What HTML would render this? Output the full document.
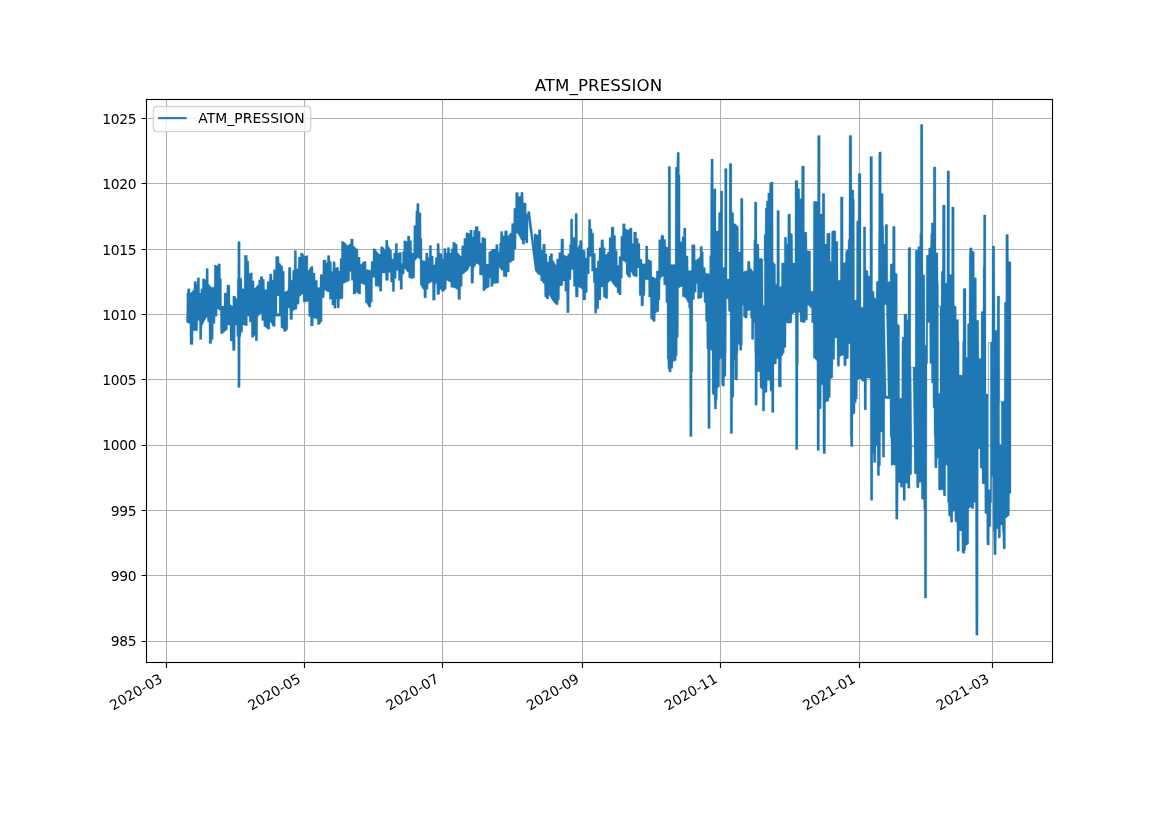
<!DOCTYPE html>
<html lang="fr"><head><meta charset="utf-8"><title>ATM_PRESSION</title>
<style>html,body{margin:0;padding:0;background:#fff;}svg{display:block}</style></head>
<body>
<svg width="1169" height="827" viewBox="0 0 1169 827">
<rect x="0" y="0" width="1169" height="827" fill="#ffffff"/>
<path d="M166.50 99.50V662.50M304.50 99.50V662.50M442.50 99.50V662.50M582.50 99.50V662.50M720.50 99.50V662.50M859.50 99.50V662.50M992.50 99.50V662.50M146.50 641.50H1052.50M146.50 575.50H1052.50M146.50 510.50H1052.50M146.50 445.50H1052.50M146.50 379.50H1052.50M146.50 314.50H1052.50M146.50 249.50H1052.50M146.50 183.50H1052.50M146.50 118.50H1052.50" stroke="#b0b0b0" stroke-width="1.111" fill="none"/>
<path d="M186.4,316.3 186.7,316.3 186.8,293.4 186.9,293.1 187.4,293.1 187.5,292.9 187.6,288.7 190,288.7 190.1,293 190.8,293.1 193,290.2 193.8,290.2 194,281.4 196.4,281.4 196.6,284.3 197.1,284.3 197.2,278 197.4,277.8 199.4,277.8 199.6,278 199.7,293.1 200.8,293.1 200.9,288.7 202.3,288.7 202.4,279 202.8,279 202.9,278.5 203.9,278.5 204.4,279 204.8,279 204.8,279.5 205,279.5 205.3,280 205.8,280 206,268.4 208.3,268.4 208.4,284.3 209,284.3 211.2,287.2 214.2,287.2 214.3,265.5 214.6,265.5 214.6,265 215.8,265 216.4,265.5 216.7,265.5 216.7,265.8 217.2,266.2 217.9,264.9 218,264 218.3,264 218.5,263.7 220.1,263.7 220.1,264 220.4,264 220.5,278.5 221.4,278.5 221.6,306.1 224,306.1 224.1,293.3 224.2,293.1 226.7,293.1 226.9,285.1 229.9,285.1 230.1,304.7 230.7,304.7 232.2,306.1 232.8,306.1 232.8,296 235.2,296 235.3,296.4 236.5,298.8 237.1,298.9 237.3,278.5 237.7,278.5 237.8,242 238,242 238.1,241.5 239.9,241.5 240.2,242.5 240.3,277.3 240.9,278.5 241.9,278.5 242.1,288.7 244.1,288.7 244.3,255.3 247.3,255.3 247.5,261.1 248.8,261.1 249,273.5 249.6,273.5 250,273.3 250,273 250.5,273 251.1,272.7 251.9,272.7 252,273 252.4,273 252.5,280.7 254.1,280.8 254.3,288 255.4,288 257.6,285.1 258.4,285.1 258.5,280 260,280 260.2,276.4 262.7,276.4 262.9,279.3 264.4,279.3 264.6,289.4 266.9,289.4 267.1,281.4 269.3,281.4 269.5,273.9 271.9,273.9 272.1,280 273.3,280 273.4,269.8 275.5,269.8 275.6,256.5 279,256.5 279.2,263.3 280.1,263.3 282,266.2 282.8,266.2 282.9,271.3 284.3,271.3 284.5,291.9 285,291.9 287.2,290.5 288.1,290.5 288.3,267.5 290.9,267.5 291.1,280.3 292.4,280.3 292.6,270.2 294,270.2 294.1,270 294.2,250.6 296.4,250.6 296.5,251 296.6,268.7 298.1,268.7 298.3,257.1 300.4,257.1 300.5,253 302.7,253.1 304.6,256.4 306.8,255.6 307.7,255.6 307.7,256 307.9,256 307.9,270.2 308.7,270.2 310.8,266.5 313,266.5 313.2,273.1 315.1,273.1 315.2,280.3 317.4,280.3 317.5,287.6 319.9,287.6 320.1,274.5 322.7,274.5 322.9,260 326.1,260 326.2,262.9 327.2,262.9 327.4,255.6 329.9,255.6 330.1,261.4 331.4,261.4 331.6,271.6 332.7,271.6 332.9,261.7 335.2,261.7 335.4,268 335.8,268 336.2,267.8 336.2,267.5 336.8,267.5 337.3,267.2 338.1,267.2 338.1,267.5 338.6,267.5 338.7,270.9 339.9,270.9 340,258.5 341.4,258.5 341.4,241.5 343.8,241.5 343.9,241.9 344.2,242 345.3,242.9 347.4,245.5 349.6,244 350.4,244 350.6,238.9 353.3,238.9 353.4,246.2 354,246.2 356.9,249.1 357.9,249.1 358,257.1 360.1,257.2 360.2,264.3 361.2,264.3 363.7,261.5 366.1,261.5 366.2,269.4 367,269.4 369.9,270.2 370.9,270.2 371.1,261.4 372.9,261.4 373.1,248.7 375.2,248.7 377.2,252 379.4,254.2 380.4,254.2 380.6,246.6 382.9,246.7 384.9,249.8 385.4,249.8 385.6,240.3 388,240.3 388.1,246.5 388.7,246.6 390.8,250.1 391.6,250.2 391.8,258.9 393.4,258.9 393.6,253.1 395,253.1 395.2,243.6 397.5,243.6 397.6,253.1 398.1,253 398.9,252.7 399,252.5 400,252.3 401.4,252.5 401.4,263.2 402.4,263.2 402.5,251.6 403.7,251.6 403.7,241 404.1,241 404.2,240.7 405,240.7 406.1,241 406.2,241.2 406.8,241.4 407.3,241.4 407.4,235.9 409.9,235.9 410.1,240.7 411.6,240.7 411.8,253.1 413.6,253.1 413.8,225.5 415.6,225.5 415.8,211 416.6,211 416.7,203.5 417,203.4 419.1,203.5 419.2,212.4 420.7,213.1 421.1,213.1 421.2,238.5 422,238.5 422.1,260.3 425.5,261 425.6,253.1 427.9,253.1 428.1,257.4 429.1,257.4 429.3,245.5 431.6,245.5 431.7,256 433.2,256.1 433.4,264.7 435.2,264.7 435.3,257.4 436.8,257.4 437,243.6 439.3,243.6 439.5,253.1 439.9,253.1 441.3,253.8 442.1,253.8 442.3,258.9 443.5,258.9 443.7,248.4 446,248.4 446.2,253.1 447.2,253.1 447.3,247.5 449.6,247.5 449.8,252.9 449.8,253.1 451.1,253.1 451.3,248.7 452.6,248.7 452.6,242.5 452.8,242.2 454.6,242.2 456.4,244.3 457.3,244.3 457.5,253.1 458.3,253.1 460.5,255.9 461.5,256 461.7,245.8 463.7,245.8 463.8,238.5 465.9,238.5 465.9,233 466.2,233 466.2,232.7 467.5,232.7 469.2,233.4 469.7,233.5 469.9,230.1 472.2,230.1 472.4,237.1 473.5,237.1 473.6,230.6 475,230.6 475.1,226.6 478.2,226.6 478.3,231.3 480.2,231.3 480.3,242.9 481.7,242.9 481.7,237.5 484.1,237.5 484.2,238 484.4,238 484.9,238.5 486,238.5 486.1,264.1 488.6,264.1 488.7,251.8 490.1,251.7 492.3,248.9 495.5,248.9 495.7,244.5 498.1,244.5 498.3,251.8 499.3,251.8 499.5,243.1 500.3,243.1 500.5,231.4 502.8,231.4 502.9,235.8 504.4,235.8 504.6,230.7 507.4,230.8 507.6,235.8 508.3,235.8 510.4,232.9 511.4,232.9 511.6,223.5 513.6,223.5 513.8,208.2 515.5,208.2 515.6,192.5 518.3,192.5 518.4,196.5 519.1,196.6 520.7,195.9 520.8,192.5 521,192.5 521.1,192.3 523,192.3 523.2,192.5 523.3,202.4 525.4,203.1 526.2,203.1 526.3,214 527.1,214 527.6,213.3 527.6,211.5 530,211.5 530.1,213.8 534,244.4 534,234 534.8,234 535.1,233.6 535.7,234 536.4,234 536.5,234.5 537.3,235.1 538.2,235.1 538.3,229.7 541,229.7 541.2,250.3 542.5,250.3 542.7,244.2 545.4,244.2 545.5,253.9 547,253.9 547.2,261.9 548.8,261.9 549,256.1 550.1,256.1 550.3,253.5 552.6,253.5 552.8,260.5 553.3,260.5 555.4,264.8 556.4,264.8 556.6,259 558.6,259 558.6,258.9 558.8,252.5 560.7,252.5 560.9,239 563.7,239 563.8,255 564.4,255 566.6,256.4 568.7,253.6 569.4,253.5 569.5,244.8 570.4,244.8 570.4,219 572.8,219 572.9,237.6 574.9,237.6 575,214 575.1,214 575.2,213.6 577.2,213.6 577.4,215 577.5,247.7 577.7,247.7 579.2,244.8 579.5,244.8 579.6,240.5 582,240.5 582.1,249.2 582.5,249.2 584.4,250.6 585.2,250.6 585.4,257.9 586.8,257.9 587,247.7 588.3,247.7 588.4,219.4 590.7,219.4 590.9,228.9 592.1,228.9 592.3,233.2 593.8,233.2 593.9,253.5 595.4,253.5 595.5,268.1 597.1,268.1 597.3,260.8 598.9,260.8 599.1,247.7 600.8,247.7 600.9,239.8 603.6,239.8 603.8,247.7 605.2,247.7 605.3,255 606.2,255 607.9,252.1 608.9,252.1 609.1,237.6 610.9,237.6 611.1,227.1 614,227.1 614.1,235.4 615.7,235.4 615.8,250.6 617.3,250.6 617.4,265.2 618.9,265.2 619,256.4 620.7,256.4 620.8,236.2 622.4,236.1 622.6,223.8 625.2,223.8 625.4,228.9 626.1,228.9 628.2,230.3 629.7,228.5 630.2,228.1 632,228.1 632.1,228.5 632.2,243.4 633.5,243.4 633.7,232.1 636.5,232.1 636.6,238.3 638.1,238.3 638.1,238.4 638.3,243.4 640,243.4 640.1,258.9 640.2,259.3 641.9,259.3 642.1,263.7 645.4,263.7 645.6,246 647.9,246 648,259.3 648.6,259.4 650.7,260.8 651.7,260.8 651.9,276.8 652.9,276.8 655.1,278.2 656.1,278.2 656.3,271 658.5,271 658.7,239.8 660.8,239.6 661,235.3 663.8,235.3 664,239.6 665.7,239.6 665.8,246.9 666.8,246.9 668.1,247.6 668.1,166.5 669.1,166.5 669.3,166.2 669.6,166.5 670.5,166.5 670.6,168 670.7,264.5 675.1,264.5 675.3,167.6 676.4,166.9 676.8,166.9 677,152.5 677.8,152.5 678.2,152.1 678.6,152.5 679.4,152.5 679.4,174.9 680.1,174.9 680.2,241.8 681.8,241.8 682,236.7 683.5,236.7 683.6,228 686,228 686.1,255.6 688.1,256.3 688.3,270.4 691.5,270.4 691.6,244.7 695.1,244.7 695.3,260.2 695.9,260.2 698.1,258.7 700,256.4 700,246.5 702.4,246.5 702.5,252 703.3,252 703.5,267.5 705.3,267.5 705.5,273.3 706.8,273.3 709.6,274 709.7,255.7 710.5,255.6 710.6,184 710.7,184 710.8,183.6 710.9,159 713.3,159 713.4,206.9 713.6,189 713.7,188.7 715.8,188.7 716,189 716,230.9 718.4,230.9 718.5,212.7 719.2,212.7 720.3,211.4 720.4,191 722.8,191 722.8,267.5 724.6,267.5 724.6,169.5 724.7,168.5 725.9,168.4 727.1,168.5 727.1,279.1 729.1,279.1 729.2,164 729.4,164 729.5,163.5 730.4,163.5 730.8,163.3 731,163.5 731.9,163.5 731.9,212 733,212.7 733.6,212.7 733.7,212.9 733.8,223.6 734.5,223.6 735.9,224.3 737.8,226.5 738.4,226.5 738.6,252 740.4,252 740.5,199 740.6,198.5 741.1,198.5 741.3,198.2 742.4,198.2 742.6,198.5 743,198.5 743.3,271.8 746.8,270.4 747.3,270.4 747.5,261.3 750,261.3 750.1,268.2 750.9,268.2 753.3,271.8 753.6,271.8 753.8,240.3 754.3,240.3 754.4,202.5 754.5,202 755.4,202 755.8,201.8 756.1,202 756.9,202 757,244 759,244.4 759.1,258.5 759.7,258.5 760.7,258 761.8,258.5 763.5,260.2 764,260.2 764.1,234.5 765.1,234.5 765.2,208.3 766.2,208.3 766.4,201.1 767.7,201.1 767.8,193.1 769.4,193.1 769.6,182.9 770.4,182.9 770.7,182 773.1,182 773.2,261.6 775.2,264.5 775.5,264.5 775.6,284.2 776.8,284.2 776.9,210.5 777.9,210.5 778.1,210.3 778.3,210.5 779.3,210.5 779.4,211.5 779.5,286.4 781.3,286.4 781.4,285.8 781.5,263.1 784.3,263.1 784.3,237.5 784.5,237.1 786.7,237.5 786.8,244 787.7,244 787.8,214.9 788,214.9 788.1,214 790.5,214 790.6,233.1 790.9,233.1 792.2,234.5 792.6,234.5 792.8,263.1 794.9,263.1 795,181 795.3,181 795.5,180.5 797.9,180.5 797.9,188.1 799.2,188.7 799.7,188.7 799.8,198.9 800.3,198.9 801.5,198.2 801.6,166.5 801.9,166.5 802,166 804.4,166 804.4,231.7 806.4,232.3 806.9,232.3 807.1,250.5 810.6,251.2 810.8,291.2 813.2,291.2 813.4,202.2 813.6,201.5 814.3,201.5 814.9,201.1 815.2,201.5 816.6,201.3 816.7,201.5 817.4,201.5 817.5,203 817.6,136.5 817.8,135.5 818.6,135.5 819,135 819.4,135.5 820.2,135.5 820.2,214 822.2,214 822.2,194 822.4,193.5 823.1,193.5 823.8,193.2 824.1,193.5 824.8,193.5 824.9,243.9 826.5,243.9 826.7,233.7 827.6,233.5 827.7,233 830.1,233 830.1,261.4 831.3,261.4 831.5,231.5 833.3,230.5 835.8,231.1 835.9,241 837.9,241.7 838.1,280.3 840.3,280.3 840.4,197.5 840.7,197.5 840.7,197 843.1,197 843.2,262.8 845.4,262.8 845.6,251.2 847.5,249.7 848,249.7 848.2,239.5 848.9,239.5 849.1,136.2 849.4,136 849.4,135.5 850.1,135.5 850.7,135 851.1,135.5 851.8,135.5 851.9,190 853.8,190 853.9,199 854,199.4 854.4,199.4 854.5,299.9 856.4,299.9 856.6,221.2 858.1,220.5 858.2,174 858.5,174 858.6,173.5 859.5,173.5 859.9,173.3 860.1,173.5 861,173.5 861,307.2 863.2,307.2 863.3,227 864.2,227 864.6,226.7 864.8,227 865.7,227 865.9,270.1 867.5,270.8 867.9,270.8 868.1,275.9 869.9,275.9 869.9,157.5 870.1,156.5 871.1,156.5 871.4,156.3 871.6,156.5 872.5,156.5 872.6,291.2 874.1,291.6 874.3,297.7 874.7,297.7 875.7,298.4 876.1,298.4 876.3,281.7 878.3,281 878.4,242.7 878.5,239.5 878.6,239.5 878.7,153 878.9,152 879.8,152 880.1,151.6 880.4,152 881.3,152 881.3,193.6 883.2,193.6 883.3,226.3 883.7,226.3 883.8,227.5 883.9,243.9 885.1,243.9 885.1,225 885.3,225 885.3,224.5 886.1,224.5 886.8,224.2 887,224.5 887.7,224.5 887.8,281.7 890.1,281.7 890.2,264.3 892.5,263.5 892.6,226.5 894.6,226.2 894.6,226.5 895,226.5 895.2,228 895.3,273.1 897.3,273.7 897.4,323.9 897.7,323.9 899,325.3 899.4,325.3 899.5,326.5 899.6,398.3 901.7,398.3 901.9,341.3 902.1,341.3 902.2,340.9 902.3,337 903.9,337 903.9,314.5 904.6,314.4 904.6,314 907,314 907.1,319.9 908,319.5 908.1,248.3 908.4,247.5 909.2,247.5 909.6,247.1 909.9,247.5 910.8,247.5 910.8,367 915.2,367 915.3,250.4 917.8,250 917.9,246.8 919.7,246.5 919.8,233.7 920.2,233.7 920.3,228 920.4,125 920.5,124.5 921.3,124.5 921.7,124.1 922.1,124.5 922.9,124.5 923,274.4 924.8,275.2 925,345.2 926.1,345.2 926.3,255.5 928.5,254.8 928.6,248.3 929,248.3 930.1,247.6 930.5,247.5 930.7,233.7 931.2,233.7 931.3,223.1 933.3,222.7 933.3,167.5 933.5,167 934.3,167 934.8,166.7 935.1,167 935.9,167 936,252.6 937.9,252.9 938.1,283.2 938.3,283.2 938.4,283.4 938.5,306.4 941,306.4 941.2,271.5 942.3,271.5 942.5,205.5 942.8,205.5 942.8,205 945.2,205 945.3,283.2 946.9,282.9 947,171.5 947.1,171 947.9,171 948.5,170.5 948.8,171 949.5,171 949.6,172 949.6,274.4 951.6,274.4 951.7,207.5 951.8,207 953.3,206.9 953.4,207 954.2,207 954.3,305.7 956.2,306.4 956.3,319.5 958.6,319.5 958.7,341.3 959.1,341.3 959.2,375 962.4,375 962.6,341.3 963.1,341.3 963.1,289 963.5,289 963.6,288.5 966,288.5 966.1,357.5 967.4,357.5 967.5,323.9 969,323.2 969.2,257.4 969.2,255.5 969.4,255.5 969.5,248.5 969.7,248.5 969.8,248 970.4,248 971.2,247.5 971.6,247.5 971.6,248 972.2,248 972.2,251.2 974.3,251.5 974.4,277.4 976.4,278.1 976.5,320.3 978.7,320.3 978.9,358.5 981,358.5 981.1,312.8 981.3,311.6 983,311.3 983.1,268 983.2,266.7 983.3,266.7 983.4,263 983.5,215.5 983.5,215 984.4,215 984.8,214.5 985.1,215 985.9,215 986,394 988.2,394 988.3,342.5 990.3,342.5 991.9,341.8 992.2,246.5 992.3,246 993.1,246 993.6,245.7 994,246 994.7,246 995.1,330.2 997.1,330.2 997.2,297.5 997.3,296 999.7,296 999.8,401.2 1004.2,401.2 1004.4,302.2 1005.8,301.9 1005.8,235 1006,234.5 1006.7,234.5 1007.4,234.1 1007.7,234.5 1008.4,234.5 1008.5,261.6 1009.9,261.6 1011,262.3 1011,493 1009.6,493.8 1009.6,494.3 1009.4,515.5 1009.1,515.5 1005.5,518.4 1005.4,548.5 1004.9,548.5 1004.9,549 1003.5,549 1003.5,548.5 1003,548.5 1002.7,531.4 1002.4,531.4 1002.3,531.1 1002.2,524.9 1000.6,524.9 1000.5,537.5 1000.1,537.5 1000.1,538 998.6,538 998.6,537.5 998.1,537.5 998.1,529.2 996.6,528.6 996.4,540.3 996.3,541.4 996.2,554.5 995.8,554.5 995.7,554.8 994.3,554.8 994.3,554.5 993.8,554.5 993.5,531.4 993.2,531.4 993.1,529.9 993,476.4 991.8,476.4 991.7,502.5 991,502.5 990.8,526.4 990.3,526.4 989.4,526.9 989.4,545 987,545 986.9,542.5 986.7,542.5 986.7,514 985.3,513.3 984.8,513.3 984.7,484.3 982.1,483.6 981.9,468.4 980.1,467.7 980,449.6 979.9,448.7 978.7,448.7 978.4,449.6 978.3,449.6 978.1,635 977.7,635 977.6,635.3 976.1,635.3 976.1,635 975.7,635 975.4,502.5 973.8,502.5 973.8,508.5 973.3,508.5 973.3,508.8 972.1,508.8 971.8,508.5 971.4,508.5 971.1,507.5 970.7,506.9 969.3,508.3 968.8,508.3 968.7,544 968.2,544 966.4,545.4 965.7,545.4 965.6,550.2 965.5,550.5 964.9,550.5 964.8,553 964.4,553 964.4,553.4 963,553.4 962.8,553 962.4,553 962.3,552 961.9,552 961.8,530.9 959.4,530.9 959.4,551 959.1,551 959,551.2 957.4,551.2 957.3,551 957,551 956.9,522.9 955.5,521.5 955,521.4 954.9,521.3 954.8,511.3 952.8,511.3 952.8,522 952.4,522 952.4,522.2 950.8,522.2 950.8,522 950.4,522 950.3,517 948.9,515.6 948.5,515.6 948.3,502.5 947.5,502.5 947.4,465.4 947,465.4 946,464.7 945.7,464.7 945.7,495.5 945.5,495.5 945.4,496 943.6,496 943.6,495.6 943.3,495.5 943.2,490.2 941.6,489.4 941.4,489.5 941.4,490 940.2,490.2 939,490 938.9,489.5 938.4,489.4 938.3,458.2 937.2,458.2 937.1,467.5 936.6,467.5 936.5,467.9 935.4,467.9 935.3,467.5 934.7,467.5 934.4,436.8 934.1,436.8 933.9,407.7 933,407.7 932.8,383 931.5,383 931.3,363.4 929.8,363.4 929.6,322.4 927.8,322.4 927.7,363.4 927,363.4 926.7,598 924.8,598.2 924.8,598 924.3,598 924.2,509.8 923.8,509.8 923.7,509.1 923.6,499.6 923.2,499.6 921.7,498.9 921.4,498.9 921.2,482.2 919.1,482.2 919,487.5 918.7,487.5 918.6,487.7 916.9,487.7 916.9,487.5 916.6,487.5 916.5,474.2 914.2,473.4 914.1,446.5 911.9,445.8 911.7,474.2 910,474.9 910,488 909.7,488 909.6,488.3 907.9,488.3 907.9,488 907.6,488 907.5,482.9 905.5,483.5 905.4,500 905,500 905,500.4 903.5,500.4 903.5,500 903,500 903,483.6 902.8,483.6 902.7,487 902.5,487 902.5,487.3 900.6,487.3 900.5,487 900.3,487 900.3,486.5 900.2,482.9 898.7,482.2 898.3,482.2 898,519 897.5,519 897.4,519.3 896.1,519.3 896.1,519 895.6,519 895.4,465.4 893.6,464.7 893.4,465 892.9,465 891.7,465.4 891.6,465.4 891.5,465 891,465 891,441.2 890.8,441.2 890.7,436.8 890.1,436.8 889.9,399 884.8,398.6 884.7,457 882.8,457.2 882.8,457 882.3,457 882.2,432.1 880.6,432.1 880.5,465.5 879.7,466.1 879.6,475.5 877.7,475.6 877.2,475.5 877.1,445.8 876,445.8 875.9,462.5 873.5,462.5 873.4,453.6 872.9,453.1 872.8,500 872.4,500 872.3,500.4 871,500.4 870.9,500 870.4,500 870.2,378.6 868.2,377.9 866.6,378.6 866.5,409.5 866.1,409.5 866.1,409.9 864.6,409.9 864.5,409.5 864.1,409.5 864,381.5 862.4,381.2 860.2,378.6 858,379.4 857.5,379.4 857.4,398.7 857.3,399 856.4,399 856.3,402.6 855.2,402.6 855,413.5 854.4,413.5 853,414.2 852.9,446.5 850.5,446.5 850.4,436.8 850.2,436.5 850.1,343.7 848.6,343.7 848.5,358.3 846.3,359 846.2,365.5 845.9,365.5 845.9,365.8 844.1,365.8 844.1,365.5 843.8,365.5 843.7,355.4 842,355.4 839.7,356.8 839.6,366 839.3,366.3 837.4,366.3 837.4,366 837.2,366 836.9,337.9 834.9,337.9 834.7,359 833,359.7 832.8,377.9 831.1,378.6 830.5,378.6 830.3,397.4 829,397.5 828.8,401.2 828.2,401.2 825.7,401.9 825.5,453.5 825,453.5 824.9,453.8 823.6,453.8 823.6,453.5 823.1,453.5 822.9,448.5 822.8,385.2 821.7,384.5 821.4,384.4 821.2,408.4 819.5,409.2 819.4,450.5 817,450.5 816.9,361.4 816.8,360.4 816.5,360.4 814.4,358.3 813.4,358.3 813.2,322.7 811.6,322.7 811.5,308.2 810.8,308.1 808.6,305.3 807.6,305.3 807.5,319.8 806.4,319.8 805.1,321.6 805.1,322.5 804.4,322.5 804.2,322.7 802.7,322.5 802.6,322.3 801.4,322 800.2,322 800,312.5 798.5,312.5 798.4,364.5 798,364.5 797.9,449.5 795.5,449.5 795.4,364.5 795.2,312.5 794.8,312.6 792.6,314 792,314 791.8,322.7 791.2,322.7 789,323.4 786.8,322.7 786.2,322.7 786,347.4 784.4,347.4 784.2,353.3 783.1,353.3 782.9,355.8 781.5,355.8 781.4,387 779,387 779,386.6 778.5,386.5 778.2,386 778.2,358.7 776.6,358.7 776.4,363.8 775.9,363.8 774,364.5 774,412.5 771.6,412.5 771.5,391.4 770.4,390.7 770,390.7 769.8,380.5 767.3,380.5 767.1,392.2 766.4,392.2 764.8,392.9 764.7,411 762.3,411 762.3,389.3 762.1,389.2 760.6,387.8 760,387.8 759.8,371.8 757.4,371.8 757.3,405 757,405 757,405.3 755.3,405.3 755.3,405 754.9,405 754.9,352.9 754.7,352.9 754.5,322.7 753.9,322.7 753.8,339 753.6,339 753.5,339.4 751.8,339.4 751.7,339 751.4,339 751.4,318.3 750.5,318.3 750.4,310.4 749.7,310.4 747.4,311.1 747.3,318 746.8,318 746.7,318.3 746.1,318.3 745.6,318 744.9,318 744.9,317.5 744.6,317.5 743.9,316.9 743.4,316.9 743.3,305.6 743.2,305.3 742.5,305.3 742.4,344.5 742,344.5 741.9,350 741.8,350.3 739.7,350.3 739.5,350 739.5,344.5 738.2,344.5 738,352.9 737.7,352.9 737.6,380 736.8,380 736.8,380.2 736.4,380.2 736.1,380 735.2,380 734.9,379.1 734.6,379 734.5,360.2 734,360.2 733.9,396.5 732.7,397.9 732.6,433.5 730.2,433.5 730.1,312.5 728.7,311.1 728.4,311.1 728.2,299.4 727.9,299.4 726.5,298 726.3,352.9 726.1,352.9 726.1,355 726,374.4 725.9,376.2 724.6,376.8 724.5,386 723.7,386 723.7,386.4 723.3,386.4 723,386 722.1,386 721.7,384.5 721.5,384.5 721.5,358.7 719.8,358.7 719.6,386.4 717.8,387.8 717.5,387.8 717.3,400.2 716.7,400.2 716.6,408.5 716.5,408.9 714.3,408.9 714.1,395.1 713.4,395.1 712.1,393.6 712,350.3 710.3,350.3 710.2,427.5 710.2,428.5 707.8,428.5 707.7,379.1 707.5,379 707.5,348.9 706.8,348.9 706.6,321.4 705.5,321.3 705.3,302.4 704,302.4 703.8,292.2 702.2,292.2 702,298 701,298 698.8,298.7 697.8,298.7 697.8,298.5 697.4,298.5 697.4,283.4 696.4,283.4 696.2,292.2 694.7,292.2 694.5,299.4 692.9,299.4 692.7,371.8 692.2,371.8 692.1,436.5 689.7,436.5 689.4,308.2 688.7,308.2 688.5,302.4 687.9,302.4 685.7,298 683.1,296.5 682.3,296.5 682.2,286.4 681.4,286.4 679.2,287.8 678.6,287.8 678.4,337.3 677.4,337.3 677.2,355.8 676.4,355.8 676.3,360.5 675.8,360.5 673.8,361.6 673,361.6 672.8,368.2 671.4,368.2 671.2,372.1 668.9,372.1 668.8,368.9 667.9,368.9 667.7,358.8 667.1,358.7 667,302.4 665.8,302.4 665.7,284.9 663.6,284.8 663.5,276.2 662.5,276.2 660.2,279.1 660,300 659,300 658.9,311.6 658,311.6 655.8,313 655.4,313 655.3,321 655.2,321.5 653.4,321.5 651.5,318.9 650.5,318.9 650.3,297.1 648.6,297.1 648.5,279.7 645.2,279.7 645,295.6 643.7,295.6 643.6,305.8 640.9,305.8 640.8,295.9 640.7,295.6 639.2,295.6 639,268.1 637.4,268.1 637.4,276.5 637.2,276.8 636.2,276.8 633.3,276 631.2,271.7 630.7,271.7 630.7,277 630.5,277.5 628.8,277.5 628.3,277 626.8,274.6 626.1,274.6 626,262.2 625.3,262.2 623.1,260.8 622.5,260.8 622.4,278.1 621.2,278.2 621.2,294.5 621,294.9 619.2,294.9 619,294.5 618.8,294.5 618.7,294 618.1,292.7 617.1,292.7 616.9,287.6 615.9,287.6 613,284.1 610.8,280.4 608.2,282.6 607.9,282.6 607.8,298.5 605.4,298.5 605.4,298 605.1,298 605.1,297.7 604.3,297.1 603.3,297.1 603.1,286.9 601.1,286.9 600.9,300 598.9,300 598.8,308.7 596.9,308.7 596.7,313.3 594.5,313.3 594.3,282.6 593.3,282.6 593.1,271 591.5,271 591.3,256.4 589.5,256.4 589.3,273.9 587.5,273.9 587.3,292.5 587.3,292.7 585.8,292.7 585.7,300 582.9,300 582.7,289.1 581.8,289.1 578.9,286.9 578.4,286.9 578.2,297.1 575.4,297.1 575.2,286.2 573.4,286.2 573.2,269.5 571.2,269.5 571,279.7 569.4,279.7 569.2,312.8 566.7,312.8 566.5,291.3 564.8,291.3 564.7,281.1 563,281.1 562.8,285.5 562.2,285.5 559.6,286.2 559.5,299.7 558.4,299.7 558.2,304.7 556.2,304.7 554,302.6 551.8,299.6 549.6,295.3 548.9,295.3 548.8,298.9 546.8,298.9 545.3,296.8 544.6,296.8 544.4,283.7 543.8,283.7 541.6,280.8 540.6,280.8 540.5,275 539.4,275 537.3,273.5 535.1,270.5 530.6,235.3 528.1,217.9 528,243 525.6,243 525.5,240.2 524.8,240.2 524.7,244.2 522.2,244.2 522,240.2 521.3,240.2 519.1,235.8 517,232.9 516.3,232.9 516.1,248.9 514.5,248.9 514.3,260.5 513.3,260.5 510.4,262.6 509.4,262.6 509.3,272.1 507.2,272.1 507,276.7 503.3,276.7 503.1,270.6 501.7,270.6 499.6,267.8 498.9,267.7 498.7,283 493.2,283.7 493,286.6 490.7,286.6 490.6,277.9 489.5,277.9 489.3,287.3 488.6,287.3 485.4,289.3 485.2,290.5 484.6,290.5 484.4,290.8 483.4,290.8 483.4,290.5 482.8,290.5 482.7,275.6 480.1,274.8 479.4,274.8 479.3,264.7 478.6,264.7 476.5,263.2 474.3,267.5 473.8,267.6 473.6,283.2 470.9,283.2 470.8,266.1 469.9,266.1 467.7,270.5 465.6,271.9 463.4,274.1 462.4,274.1 462.2,286.4 460.7,286.4 460.5,299.5 457.9,299.5 457.7,289.3 456.9,289.3 454.7,287.9 451.8,287.2 450.8,287.2 450.6,282.1 449.6,282.1 447.4,280.6 446.4,280.6 446.3,289.3 445.2,289.4 444.3,290.7 444.3,291.5 442.5,291.5 441.9,291.5 441.8,290.8 440.5,289.3 439.9,289.3 439.7,294.4 436.9,294.4 436.7,283.5 435.4,283.5 435.2,300.2 432.5,300.2 432.4,282.1 431.5,282.1 429.3,283.5 428.3,283.5 428.1,289.3 426.6,289.3 426.4,297.8 423.9,297.8 423.7,289.3 423,289.3 420.6,285.1 420.2,285 420,258.9 419.6,258.9 417.7,257.4 415.5,260.3 414.9,260.3 414.7,277.7 414,277.7 413.1,278.2 413.1,278.5 412.6,278.5 411.9,278.9 411.2,278.5 410.7,278.5 410.6,278.2 409.7,277.7 408.7,277.7 408.5,271.9 407.5,271.9 405.4,269.1 404.3,269 404.2,274.1 402.6,274.1 402.5,289.3 400,289.3 399.9,280.6 398.4,280.6 398.2,270.5 396.4,270.5 396.2,278.5 394.7,278.5 394.6,291.5 392.3,291.5 392.1,282.1 390.6,282.1 390.5,281.9 390.4,272.6 388.5,272.6 388.3,280.6 385.6,280.6 385.4,273.1 382.1,273.1 381.9,291.2 379.5,291.2 379.3,286.8 378.6,286.8 376.5,286.1 375.1,286.1 374.9,277.4 372.6,277.4 372.4,302.1 371,302.1 370.9,307 370.7,307.2 368.9,307.2 368.5,307 368.5,306.5 366.3,302.8 365.3,302.8 365.1,284.7 364.1,284.7 361.2,283.2 360.8,283.2 360.8,294 358.4,294 358.3,293.7 356.9,291.9 355.3,294.1 353,294 353,280.3 351.3,280.3 351.1,271.6 349.7,271.6 349.5,281 348.9,281 346,282.5 343.8,283.2 343.2,283.2 343,298.5 342.3,298.5 340.2,299.2 339.5,299.2 339.3,307.9 337,307.9 336.9,299.2 336.2,299.2 336.1,308.2 333.8,308.2 333.6,305 331.9,305 331.7,299.2 329.4,299.2 329.2,291.9 327.8,291.9 325.7,290.5 324.4,290.5 324.3,297.7 322.3,297.7 322.1,321.7 321.3,321.7 319.8,324.6 317.4,324.6 317.3,318.8 316.2,318.8 314.1,318.1 313.4,318 313.2,326 310.5,326 310.4,316.6 308.7,316.6 308.5,301.4 307.5,301.4 305.5,301.9 305.5,302 303.1,302 303,294.1 302.4,294.1 300.3,296.3 299.3,296.3 299.1,304.3 297.1,304.3 296.9,309.3 295.9,309.3 293,310.8 292.7,310.8 292.5,319.5 289.9,319.5 289.7,307.9 288,307.9 287.8,329.7 287.2,329.7 286.4,330.3 286.1,331.5 283.7,331.5 283.6,329.8 282.3,327.9 280.9,327.8 280.7,316.3 275.4,316.3 275.3,326.4 272.9,326.4 270.7,322.1 270,322.1 269.8,329.3 267.8,329.3 264.9,326.5 263.8,326.4 263.7,320.6 261.7,320.6 261.5,313.4 260.5,313.4 258.3,316.3 257.8,316.3 257.6,340.7 255.3,340.7 255.2,335.1 254.7,335.2 253.6,337.3 251.4,337.3 251.2,322.1 249.3,322.1 249.2,316.3 247.4,316.3 247.4,325.5 247,325.5 247,325.7 246,325.7 243.8,325 242.8,325 242.6,332.2 241.1,332.2 241,336.6 240.3,336.6 240.2,384 240.1,387.4 237.9,387.4 237.8,387 237.7,336.6 236.8,336.6 236.6,325 235.3,325 235.1,350.4 232.5,350.4 232.3,341 230.1,341 230.1,340.6 229.9,325 227.6,325 227.4,330.1 226.4,330.1 224.2,332.2 222.9,333.1 222.9,333.5 221,333.7 221,333.5 220.5,333.5 220.4,310.5 219.8,310.4 218.1,309 217.3,309 217.1,316.3 215.2,316.3 215.1,323.5 213.4,323.5 213.2,339.5 211.9,339.5 211.8,343.6 209.1,343.6 208.9,322.1 207.6,322.1 207.4,317 206.8,317 204.6,320.6 202.5,324.9 202,325 201.8,339.5 199.5,339.5 199.4,321.2 199.3,320.6 197.8,320.6 197.6,330.8 193.2,330.8 193,344.6 190,344.6 189.8,323.5 188.6,323.5 186.4,322.1ZM762.8,260.2 764.3,260.2 764.3,305.3 763.1,305.3ZM277.0,296.0 279.1,296.0 279.1,313.4 277.0,313.4ZM884.5,304.7 886.3,304.7 888.0,396.1 886.2,396.1ZM911.1,367.0 913.0,367.0 914.1,446.5 911.9,446.5ZM938.4,305.9 940.0,305.9 940.0,393.2 938.4,393.2ZM988.4,342.5 990.3,342.5 990.3,489.4 988.4,489.4ZM999.6,401.2 1001.3,401.2 1001.3,444.5 999.6,444.5Z" fill="#1f77b4" fill-rule="evenodd" stroke="#1f77b4" stroke-width="0.25" stroke-linejoin="round"/>
<rect x="146.500" y="99.500" width="906.000" height="563.000" fill="none" stroke="#000" stroke-width="1.111"/>
<path d="M166.50 662.50v5.56M304.50 662.50v5.56M442.50 662.50v5.56M582.50 662.50v5.56M720.50 662.50v5.56M859.50 662.50v5.56M992.50 662.50v5.56M146.50 641.50h-4.86M146.50 575.50h-4.86M146.50 510.50h-4.86M146.50 445.50h-4.86M146.50 379.50h-4.86M146.50 314.50h-4.86M146.50 249.50h-4.86M146.50 183.50h-4.86M146.50 118.50h-4.86" stroke="#000" stroke-width="1.111" fill="none"/>
<g font-family="'DejaVu Sans', 'Liberation Sans', sans-serif" font-size="13.889px" fill="#000">
<text x="136.18" y="646.48" text-anchor="end" letter-spacing="-0.33">985</text>
<text x="136.18" y="581.15" text-anchor="end" letter-spacing="-0.33">990</text>
<text x="136.18" y="515.82" text-anchor="end" letter-spacing="-0.33">995</text>
<text x="136.18" y="450.49" text-anchor="end" letter-spacing="-0.33">1000</text>
<text x="136.18" y="385.16" text-anchor="end" letter-spacing="-0.33">1005</text>
<text x="136.18" y="319.83" text-anchor="end" letter-spacing="-0.33">1010</text>
<text x="136.18" y="254.50" text-anchor="end" letter-spacing="-0.33">1015</text>
<text x="136.18" y="189.17" text-anchor="end" letter-spacing="-0.33">1020</text>
<text x="136.18" y="123.84" text-anchor="end" letter-spacing="-0.33">1025</text>
<text transform="translate(166.10,672.22) rotate(-30)" text-anchor="end" x="-6.97" y="6.88">2020-03</text>
<text transform="translate(304.23,672.22) rotate(-30)" text-anchor="end" x="-6.97" y="6.88">2020-05</text>
<text transform="translate(442.37,672.22) rotate(-30)" text-anchor="end" x="-6.97" y="6.88">2020-07</text>
<text transform="translate(582.77,672.22) rotate(-30)" text-anchor="end" x="-6.97" y="6.88">2020-09</text>
<text transform="translate(720.90,672.22) rotate(-30)" text-anchor="end" x="-6.97" y="6.88">2020-11</text>
<text transform="translate(859.04,672.22) rotate(-30)" text-anchor="end" x="-6.97" y="6.88">2021-01</text>
<text transform="translate(992.64,672.22) rotate(-30)" text-anchor="end" x="-6.97" y="6.88">2021-03</text>
</g>
<text x="598.45" y="90.91" letter-spacing="0.06" text-anchor="middle" font-family="'DejaVu Sans', 'Liberation Sans', sans-serif" font-size="16.667px" fill="#000">ATM_PRESSION</text>
<rect x="153.44" y="106.44" width="157.20" height="25.20" rx="2.78" fill="#fff" fill-opacity="0.8" stroke="#ccc" stroke-opacity="0.8" stroke-width="1.389"/>
<path d="M158.00 118.14h28.78" stroke="#1f77b4" stroke-width="2.083" stroke-linecap="butt" fill="none"/>
<text x="198.29" y="123.14" letter-spacing="0.07" font-family="'DejaVu Sans', 'Liberation Sans', sans-serif" font-size="13.889px" fill="#000">ATM_PRESSION</text>
</svg>
</body></html>
